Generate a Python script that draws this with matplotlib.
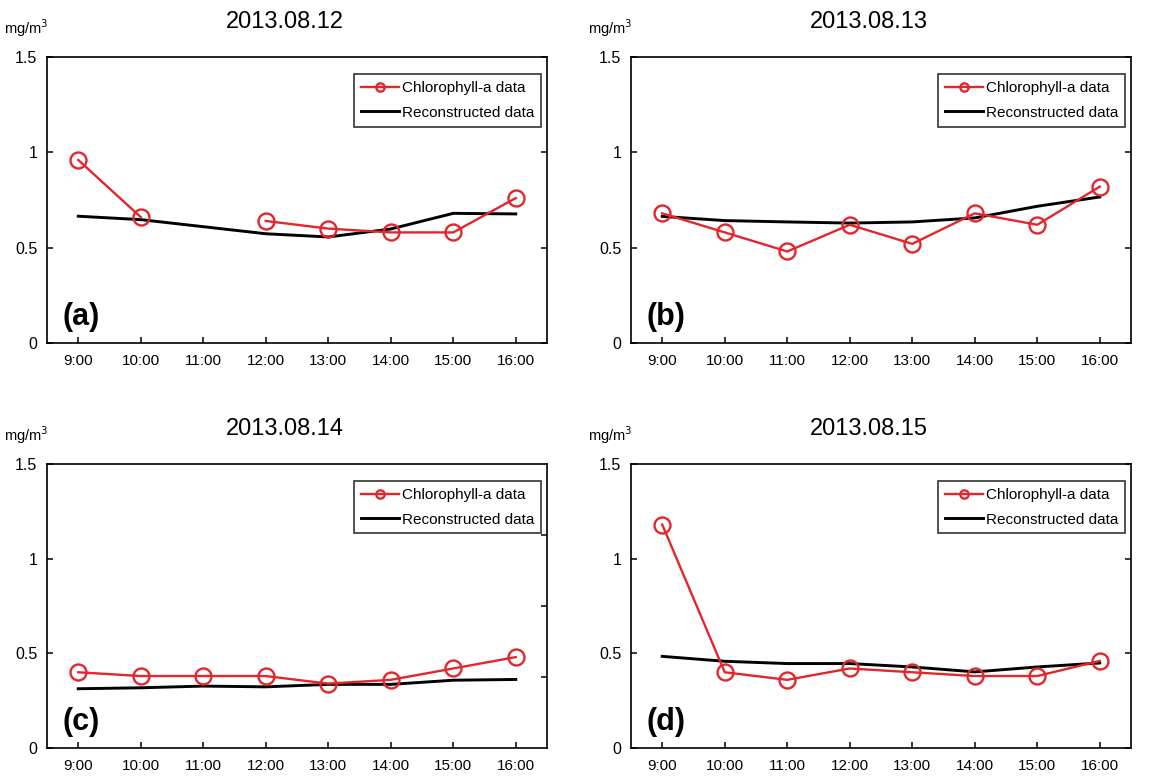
import numpy as np
import matplotlib
matplotlib.use("Agg")
import matplotlib.pyplot as plt
from matplotlib.lines import Line2D

plt.rcParams['font.family'] = ['Liberation Sans', 'DejaVu Sans']

times = ["9:00", "10:00", "11:00", "12:00", "13:00", "14:00", "15:00", "16:00"]
titles = ["2013.08.12", "2013.08.13", "2013.08.14", "2013.08.15"]
panel_labels = ["(a)", "(b)", "(c)", "(d)"]

chl_a = [0.96, 0.66, np.nan, 0.64, 0.60, 0.58, 0.58, 0.76]
rec_a = [0.665, 0.647, 0.61, 0.573, 0.556, 0.598, 0.68, 0.677]
chl_b = [0.68, 0.58, 0.48, 0.62, 0.52, 0.68, 0.62, 0.82]
rec_b = [0.664, 0.642, 0.635, 0.629, 0.635, 0.656, 0.717, 0.766]
chl_c = [0.40, 0.38, 0.38, 0.38, 0.34, 0.36, 0.42, 0.48]
rec_c = [0.313, 0.318, 0.327, 0.323, 0.336, 0.336, 0.358, 0.362]
chl_d = [1.18, 0.40, 0.36, 0.42, 0.40, 0.38, 0.38, 0.46]
rec_d = [0.484, 0.458, 0.446, 0.446, 0.428, 0.402, 0.428, 0.449]

chl_series = [chl_a, chl_b, chl_c, chl_d]
rec_series = [rec_a, rec_b, rec_c, rec_d]

y_ticks = [0, 0.5, 1, 1.5]
y_ticklabels = ["0", "0.5", "1", "1.5"]
right_ticks_c = [0.375, 0.75, 1.125]

RED = '#e3262b'

fig = plt.figure(figsize=(11.55, 7.77), dpi=100)
W, H = 1155, 777
positions = [
    (47, 57, 500, 286),
    (631, 57, 500, 286),
    (47, 464, 500, 284),
    (631, 464, 500, 284),
]

x = np.arange(len(times))
for i, (l, t, w, h) in enumerate(positions):
    ax = fig.add_axes([l / W, (H - t - h) / H, w / W, h / H])
    ax.plot(x, chl_series[i], color=RED, lw=1.7, marker='o', ms=11.5,
            mfc='none', mec=RED, mew=1.7, zorder=3)
    ax.plot(x, rec_series[i], color='black', lw=2.1, zorder=2)
    ax.set_xlim(-0.5, len(times) - 0.5)
    ax.set_ylim(0, 1.5)
    ax.set_xticks(x)
    ax.set_xticklabels(times, fontsize=11)
    ax.set_yticks(y_ticks)
    ax.set_yticklabels(y_ticklabels, fontsize=11.5)
    for sp in ax.spines.values():
        sp.set_linewidth(1.2)
    ax.tick_params(axis='both', direction='in', length=4, width=1.1)
    ax.tick_params(axis='y', pad=7, right=(i != 2))
    ax.tick_params(axis='x', pad=8, top=False)
    if i == 2:
        ax2 = ax.twinx()
        ax2.set_ylim(0, 1.5)
        ax2.set_yticks(right_ticks_c)
        ax2.set_yticklabels([])
        ax2.tick_params(axis='y', direction='in', length=4, width=1.1)
        for sp in ax2.spines.values():
            sp.set_visible(False)

    ax.text(0.476, 1.122, titles[i], transform=ax.transAxes, ha='center',
            va='center', fontsize=17)
    ax.text(-0.086, 1.10, 'mg/m$^3$', transform=ax.transAxes, ha='left',
            va='center', fontsize=10.5)
    ax.text(0.03, 0.04, panel_labels[i], transform=ax.transAxes, ha='left',
            va='bottom', fontsize=22, fontweight='bold')

    handles = [
        Line2D([], [], color=RED, lw=1.7, marker='o', ms=6, mfc='none',
               mec=RED, mew=1.7),
        Line2D([], [], color='black', lw=2.1),
    ]
    leg = ax.legend(handles, ["Chlorophyll-a data", "Reconstructed data"],
                    loc='upper right', bbox_to_anchor=(0.988, 0.94),
                    fontsize=11, frameon=True, fancybox=False,
                    edgecolor='black', handlelength=2.5, handletextpad=0.15,
                    borderpad=0.45, labelspacing=0.7, borderaxespad=0)
    leg.get_frame().set_linewidth(1.2)

fig.savefig('out.png', dpi=100)
